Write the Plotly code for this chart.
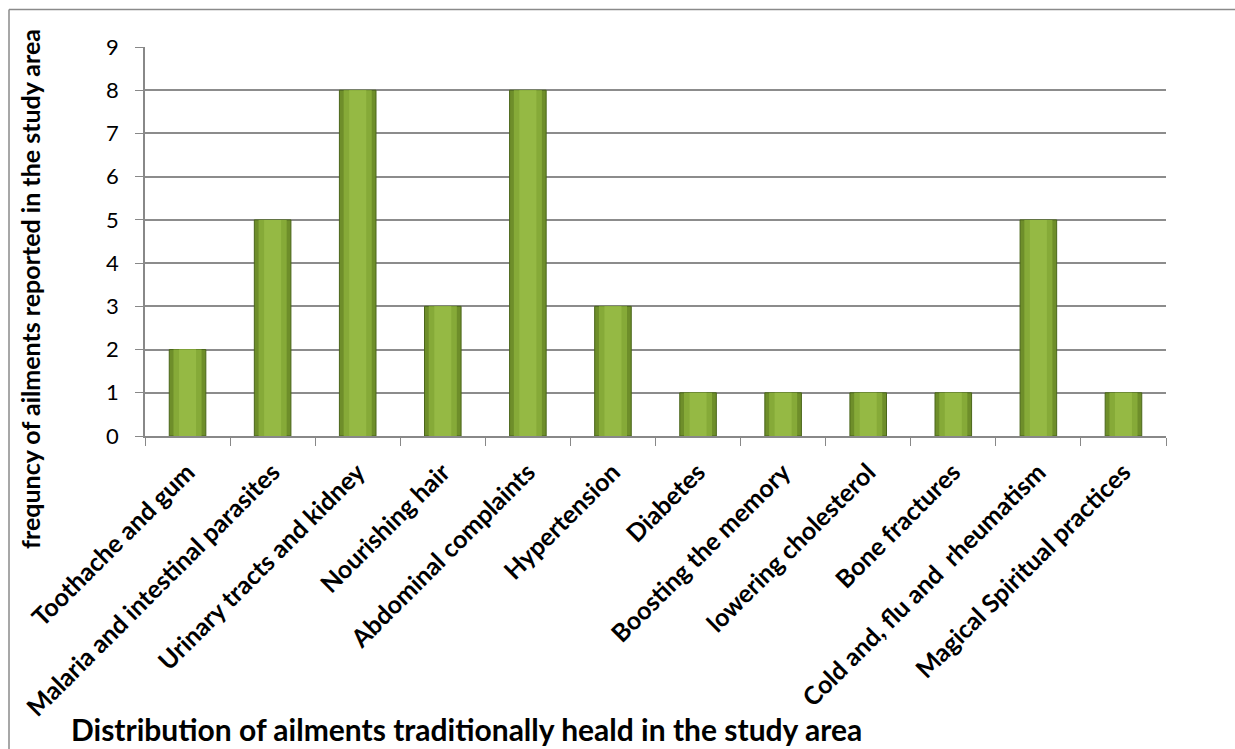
import plotly.graph_objects as go

categories = ["Toothache and gum", "Malaria and intestinal parasites", "Urinary tracts and kidney",
              "Nourishing hair", "Abdominal complaints", "Hypertension", "Diabetes",
              "Boosting the memory", "lowering cholesterol", "Bone fractures",
              "Cold and, flu and  rheumatism", "Magical Spiritual practices"]
values = [2, 5, 8, 3, 8, 3, 1, 1, 1, 1, 5, 1]

W, H = 1235, 749
L, R, T, B = 145, 1166, 47, 436

def px_x(p):
    return (p - L) / (R - L)

def px_y(p):
    return (B - p) / (B - T)

fig = go.Figure()
fig.add_trace(go.Bar(x=categories, y=values, width=0.43,
                     marker=dict(color="#6E8E2A", line=dict(color="#4A661A", width=1)),
                     hoverinfo="skip"))
fig.add_trace(go.Bar(x=categories, y=values, width=0.33,
                     marker=dict(color="#86AA38", line=dict(width=0)), hoverinfo="skip"))
fig.add_trace(go.Bar(x=categories, y=values, width=0.2,
                     marker=dict(color="#95B944", line=dict(width=0)), hoverinfo="skip"))

font_family = "Lato, 'Open Sans', sans-serif"
fig.update_layout(
    width=W, height=H,
    margin=dict(l=L, r=W - R, t=T, b=H - B, autoexpand=False),
    paper_bgcolor="white", plot_bgcolor="white",
    barmode="overlay", showlegend=False,
    font=dict(family=font_family, color="black"),
    xaxis=dict(type="category", tickangle=-45, tickson="boundaries", ticks="outside",
               ticklen=8, tickcolor="#888888", showline=True, linecolor="#888888", linewidth=1.5,
               showgrid=False, automargin=False, ticklabelstandoff=10,
               tickfont=dict(family=font_family, size=25, color="black", weight="bold")),
    yaxis=dict(range=[0, 9], dtick=1, ticks="outside", ticklen=8, tickcolor="#888888",
               showline=True, linecolor="#888888", linewidth=1.5,
               showgrid=True, gridcolor="#8c8c8c", gridwidth=1.5, zeroline=False,
               automargin=False, ticklabelstandoff=12,
               tickfont=dict(family=font_family, size=22, color="black")),
    annotations=[
        dict(text="frequncy of ailments reported in the study area", textangle=-90,
             x=px_x(30), y=px_y(289), xref="paper", yref="paper", showarrow=False,
             xanchor="center", yanchor="middle",
             font=dict(family=font_family, size=25, color="black", weight="bold")),
        dict(text="Distribution of ailments traditionally heald in the study area",
             x=px_x(466), y=px_y(729), xref="paper", yref="paper", showarrow=False,
             xanchor="center", yanchor="middle",
             font=dict(family=font_family, size=30, color="black", weight="bold")),
    ],
    shapes=[
        dict(type="line", xref="paper", yref="paper", x0=px_x(9), x1=px_x(W + 5),
             y0=px_y(9.5), y1=px_y(9.5), line=dict(color="#8a8a8a", width=1.5)),
        dict(type="line", xref="paper", yref="paper", x0=px_x(9), x1=px_x(9),
             y0=px_y(9.5), y1=px_y(H + 5), line=dict(color="#8a8a8a", width=1.5)),
    ],
)

fig.write_html("out.html")
